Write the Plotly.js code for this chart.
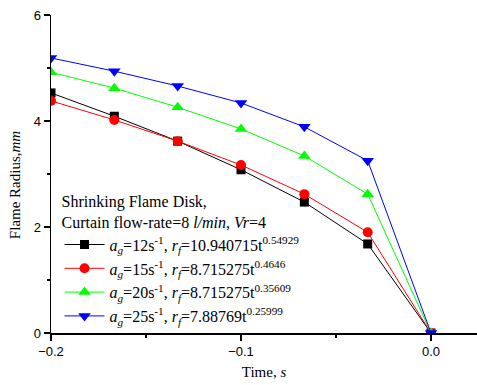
<!DOCTYPE html>
<html><head><meta charset="utf-8">
<script src="https://cdn.plot.ly/plotly-3.0.1.min.js"></script>
<style>html,body{margin:0;padding:0;background:#fff}#c{width:477px;height:385px}</style>
</head><body><div id="c"></div>
<script>
const time = [-0.2, -0.16667, -0.13333, -0.1, -0.06667, -0.03333, 0.0];
const r12 = [4.53, 4.09, 3.62, 3.08, 2.47, 1.68, 0];
const r15 = [4.38, 4.02, 3.62, 3.17, 2.62, 1.90, 0];
const r20 = [4.92, 4.62, 4.26, 3.85, 3.34, 2.62, 0];
const r25 = [5.19, 4.94, 4.66, 4.34, 3.89, 3.25, 0];
const names = [
  "<i>a</i><sub><i>g</i></sub>=12s<sup>-1</sup>, <i>r</i><sub><i>f</i></sub>=10.940715t<sup>0.54929</sup>",
  "<i>a</i><sub><i>g</i></sub>=15s<sup>-1</sup>, <i>r</i><sub><i>f</i></sub>=8.715275t<sup>0.4646</sup>",
  "<i>a</i><sub><i>g</i></sub>=20s<sup>-1</sup>, <i>r</i><sub><i>f</i></sub>=8.715275t<sup>0.35609</sup>",
  "<i>a</i><sub><i>g</i></sub>=25s<sup>-1</sup>, <i>r</i><sub><i>f</i></sub>=7.88769t<sup>0.25999</sup>"
];
const colors = ["#000000", "#FF0000", "#00FF00", "#0000FF"];
const symbols = ["square", "circle", "triangle-up", "triangle-down"];
const sizes = [9, 10, 11, 11];
const series = [r12, r15, r20, r25];
const traces = series.map((y, i) => ({
  x: time, y: y, type: "scatter", mode: "lines+markers", name: names[i],
  line: {color: colors[i], width: 1},
  marker: {color: colors[i], symbol: symbols[i], size: sizes[i]}
}));
const layout = {
  width: 477, height: 385,
  margin: {l: 51, r: 0, t: 15, b: 52},
  paper_bgcolor: "#fff", plot_bgcolor: "#fff",
  font: {family: "Liberation Serif, Times New Roman, serif", color: "#000", size: 14},
  showlegend: true,
  legend: {
    x: 0.02, y: 0.0, xanchor: "left", yanchor: "bottom",
    bgcolor: "rgba(0,0,0,0)", tracegroupgap: 0, itemwidth: 40,
    font: {family: "Liberation Serif, serif", size: 16},
    title: {text: "Shrinking Flame Disk,<br>Curtain flow-rate=8 <i>l/min</i>, <i>Vr</i>=4", font: {size: 16}}
  },
  xaxis: {
    range: [-0.2, 0.0242], dtick: 0.1, tick0: 0, tickformat: ".1f",
    showgrid: false, zeroline: false, showline: true, linecolor: "#000", linewidth: 1.5,
    ticks: "outside", ticklen: 6, tickwidth: 1.5, tickcolor: "#000",
    minor: {dtick: 0.05, ticks: "outside", ticklen: 3, tickwidth: 1.5, tickcolor: "#000", showgrid: false},
    tickfont: {family: "Liberation Sans, Arial, sans-serif", size: 13},
    title: {text: "Time, <i>s</i>", font: {size: 15}, standoff: 8}
  },
  yaxis: {
    range: [0, 6], dtick: 2,
    showgrid: false, zeroline: false, showline: true, linecolor: "#000", linewidth: 1.5,
    ticks: "outside", ticklen: 6, tickwidth: 1.5, tickcolor: "#000",
    minor: {dtick: 1, ticks: "outside", ticklen: 3, tickwidth: 1.5, tickcolor: "#000", showgrid: false},
    tickfont: {family: "Liberation Sans, Arial, sans-serif", size: 13}
  },
  annotations: [{
    text: "Flame Radius,<i>mm</i>", textangle: -90, showarrow: false,
    xref: "paper", yref: "paper", x: 0, y: 0.465, xanchor: "center", yanchor: "middle",
    xshift: -36, font: {size: 15}
  }]
};
Plotly.newPlot("c", traces, layout, {displayModeBar: false, staticPlot: true});
</script></body></html>
